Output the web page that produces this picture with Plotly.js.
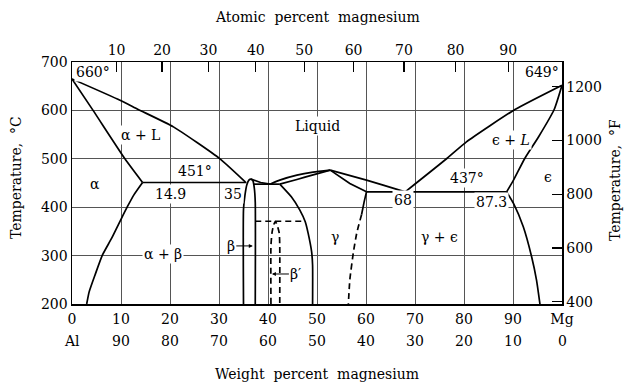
<!DOCTYPE html>
<html><head><meta charset="utf-8">
<script src="https://cdn.plot.ly/plotly-3.0.1.min.js"></script>
<style>html,body{margin:0;padding:0;background:#fff}</style>
</head><body><div id="chart" style="width:628px;height:387px"></div>
<script>
// ---------- tick data ----------
const wtTickVals = [0,10,20,30,40,50,60,70,80,90,100];
const wtTickText = ['0','10','20','30','40','50','60','70','80','90','Mg'];
const alTickText = ['Al','90','80','70','60','50','40','30','20','10','0'];
const atomicTicks = [10,20,30,40,50,60,70,80,90];
const tempTicksC = [200,300,400,500,600,700];
const tempTicksF = [400,600,800,1000,1200];
const MG_W = 24.305, AL_W = 26.982;

// ---------- phase boundaries (wt% Mg, °C) ----------
const liqAlX = [0, 9.8, 13.5, 20.7, 30.2, 35.4];
const liqAlT = [665, 621, 602, 566, 500, 452];
const solAlX = [0, 4.3, 10.8, 14.4];
const solAlT = [665, 600, 500, 451];
const solvAlX = [14.4, 12.6, 11.3, 10.1, 8.1, 6.2, 4.7, 3.5, 3.0];
const solvAlT = [451, 425, 401, 377, 336, 301, 260, 225, 200];
const eut1X = [14.4, 35.6];
const eut1T = [451, 451];
const betaX = [35.0, 35.0, 35.3, 35.7, 36.1, 36.5, 36.9, 37.2, 37.4, 37.4];
const betaT = [200, 395, 425, 447, 456, 458, 455, 440, 410, 200];
const liqBetaX = [36.5, 38.5, 40.4];
const liqBetaT = [458, 451, 447.6];
const eut2X = [37.0, 42.4];
const eut2T = [447.6, 447.6];
const liqGamLX = [40.4, 42.4, 45.9, 49.2, 52.7];
const liqGamLT = [447.6, 455.9, 466.2, 472.4, 476.5];
const solGamLX = [42.4, 45.9, 49.2, 52.7];
const solGamLT = [447.6, 457.3, 466.8, 476.5];
const solvGamLX = [42.4, 44.8, 46.5, 47.6, 48.2, 48.9, 49.1, 49.1];
const solvGamLT = [447.6, 421, 394, 370, 346, 308, 280, 200];
const trans371X = [37.4, 47.6];
const trans371T = [371, 371];
const betaPrimeX = [40.6, 40.6, 40.8, 41.1, 41.5, 41.9, 42.3, 42.4, 42.4];
const betaPrimeT = [200, 320, 346, 362, 371, 362, 346, 320, 200];
const solGamRX = [52.7, 56.7, 60.1];
const solGamRT = [476.5, 449, 431.7];
const solvGamRX = [60.1, 59.6, 59.1];
const solvGamRT = [431.7, 410, 385];
const solvGamRDashX = [59.1, 58.1, 57.4, 56.7, 56.4];
const solvGamRDashT = [385, 346, 305, 250, 200];
const liqGamRX = [52.7, 56.7, 60.1, 63.5, 68.0];
const liqGamRT = [476.5, 466.2, 455.9, 445.6, 431.7];
const eut3X = [60.1, 88.7];
const eut3T = [431.7, 431.7];
const liqMgX = [68.0, 76.5, 80.5, 90.4, 100];
const liqMgT = [431.7, 500.6, 535, 601.8, 652];
const solMgX = [88.7, 90.1, 92.4, 95.2, 98.4, 100];
const solMgT = [431.7, 456, 500.6, 545, 601.8, 652];
const solvMgX = [88.7, 90.1, 92.1, 93.8, 94.8, 95.5];
const solvMgT = [431.7, 407.8, 359.5, 297.6, 249.5, 200];

// ---------- layout constants ----------
const W = 628, H = 387;
const M = {l: 72, r: 66, t: 62, b: 83};
const PW = W - M.l - M.r, PH = H - M.t - M.b;
const px = v => (v - M.l) / PW;
const py = v => (H - M.b - v) / PH;
const FONT = 'DejaVu Serif, Liberation Serif, serif';

const segs = [
  [liqAlX, liqAlT, 'solid', 'spline'],
  [solAlX, solAlT, 'solid', 'spline'],
  [solvAlX, solvAlT, 'solid', 'spline'],
  [eut1X, eut1T, 'solid', 'linear'],
  [betaX, betaT, 'solid', 'spline'],
  [liqBetaX, liqBetaT, 'solid', 'linear'],
  [eut2X, eut2T, 'solid', 'linear'],
  [liqGamLX, liqGamLT, 'solid', 'spline'],
  [solGamLX, solGamLT, 'solid', 'spline'],
  [solvGamLX, solvGamLT, 'solid', 'spline'],
  [trans371X, trans371T, 'dash', 'linear'],
  [betaPrimeX, betaPrimeT, 'dash', 'spline'],
  [solGamRX, solGamRT, 'solid', 'linear'],
  [solvGamRX, solvGamRT, 'solid', 'spline'],
  [solvGamRDashX, solvGamRDashT, 'dash', 'spline'],
  [liqGamRX, liqGamRT, 'solid', 'linear'],
  [eut3X, eut3T, 'solid', 'linear'],
  [liqMgX, liqMgT, 'solid', 'spline'],
  [solMgX, solMgT, 'solid', 'spline'],
  [solvMgX, solvMgT, 'solid', 'spline']
];

const traces = segs.map(s => ({
  x: s[0], y: s[1], mode: 'lines', type: 'scatter', showlegend: false, hoverinfo: 'skip',
  line: {color: '#000', width: 1.7, dash: s[2] === 'dash' ? '6px,4px' : 'solid', shape: s[3], smoothing: 0.5}
}));
traces.push({x: [null], y: [null], xaxis: 'x2', yaxis: 'y2', mode: 'lines', showlegend: false, hoverinfo: 'skip'});

const atomicToWt = a => 100 * a * MG_W / (a * MG_W + (100 - a) * AL_W);

const labels = [
  ['660°', 4.3, 679], ['649°', 95.9, 679], ['Liquid', 50, 567],
  ['α + L', 13.9, 549], ['ϵ + <i>L</i>', 89.6, 538], ['451°', 25.1, 474],
  ['437°', 80.6, 460], ['α', 4.7, 448], ['ϵ', 97.1, 462],
  ['14.9', 20.2, 427], ['35', 32.9, 427], ['68', 67.6, 415], ['87.3', 85.7, 410],
  ['α + β', 18.6, 303], ['γ', 53.7, 338], ['γ + ϵ', 75.1, 338]
];

const ann = labels.map(l => ({
  text: l[0], x: l[1], y: l[2], xref: 'x', yref: 'y', showarrow: false,
  xanchor: 'center', yanchor: 'middle',
  font: {family: FONT, size: 14, color: '#000'}, bgcolor: '#fff', borderpad: 1
}));
// arrows
ann.push({text: 'β', x: 36.9, y: 320, xref: 'x', yref: 'y', showarrow: true, ax: -22, ay: 0,
  arrowhead: 2, arrowsize: 0.8, arrowwidth: 1, arrowcolor: '#000', font: {family: FONT, size: 14, color: '#000'}});
ann.push({text: 'β′', x: 40.8, y: 262, xref: 'x', yref: 'y', showarrow: true, ax: 24, ay: 0,
  arrowhead: 2, arrowsize: 0.8, arrowwidth: 1, arrowcolor: '#000', font: {family: FONT, size: 14, color: '#000'}});
// second row of bottom tick labels (wt% Al)
wtTickVals.forEach((v, i) => ann.push({
  text: alTickText[i], x: v, y: py(341), xref: 'x', yref: 'paper', showarrow: false,
  xanchor: 'center', yanchor: 'middle',
  font: {family: FONT, size: 14, color: '#000'}
}));
// axis titles
const tf = {family: FONT, size: 14, color: '#000'};
const titleAnn = (text, x, y, angle) => ({text, x, y, xref: 'paper', yref: 'paper', showarrow: false,
  xanchor: 'center', yanchor: 'middle', textangle: angle, font: tf});
ann.push(titleAnn('Atomic  percent  magnesium', 0.5, py(17), 0));
ann.push(titleAnn('Weight  percent  magnesium', 0.5, py(374), 0));
ann.push(titleAnn('Temperature,  °C', px(16), py(178), -90));
ann.push(titleAnn('Temperature,  °F', px(615), py(180), -90));

const tickFont = {family: FONT, size: 14, color: '#000'};
const layout = {
  width: W, height: H, margin: M, paper_bgcolor: '#fff', plot_bgcolor: '#fff',
  showlegend: false,
  xaxis: {range: [0, 100], tickvals: wtTickVals, ticktext: wtTickText, ticks: '', showgrid: true,
    gridcolor: '#555', gridwidth: 1, zeroline: false, showline: true, linecolor: '#000', linewidth: 1.5,
    tickfont: tickFont, ticklabelstandoff: 2, fixedrange: true},
  yaxis: {range: [200, 700], tickvals: tempTicksC, ticks: '', showgrid: true, gridcolor: '#555', gridwidth: 1,
    zeroline: false, showline: true, linecolor: '#000', linewidth: 1.5, tickfont: tickFont, fixedrange: true},
  xaxis2: {overlaying: 'x', side: 'top', anchor: 'y', range: [0, 100], tickvals: atomicTicks.map(atomicToWt),
    ticktext: atomicTicks.map(String), ticks: 'inside', ticklen: 10, tickwidth: 1.2, tickcolor: '#000',
    showgrid: false, zeroline: false, showline: true, linecolor: '#000', linewidth: 1.5, tickfont: tickFont, fixedrange: true},
  yaxis2: {overlaying: 'y', side: 'right', anchor: 'x', range: [392, 1292], tickvals: tempTicksF,
    ticks: 'inside', ticklen: 10, tickwidth: 1.2, tickcolor: '#000', showgrid: false, zeroline: false,
    showline: true, linecolor: '#000', linewidth: 1.5, tickfont: tickFont, fixedrange: true},
  annotations: ann
};

Plotly.newPlot('chart', traces, layout, {staticPlot: true, displayModeBar: false});
</script></body></html>
